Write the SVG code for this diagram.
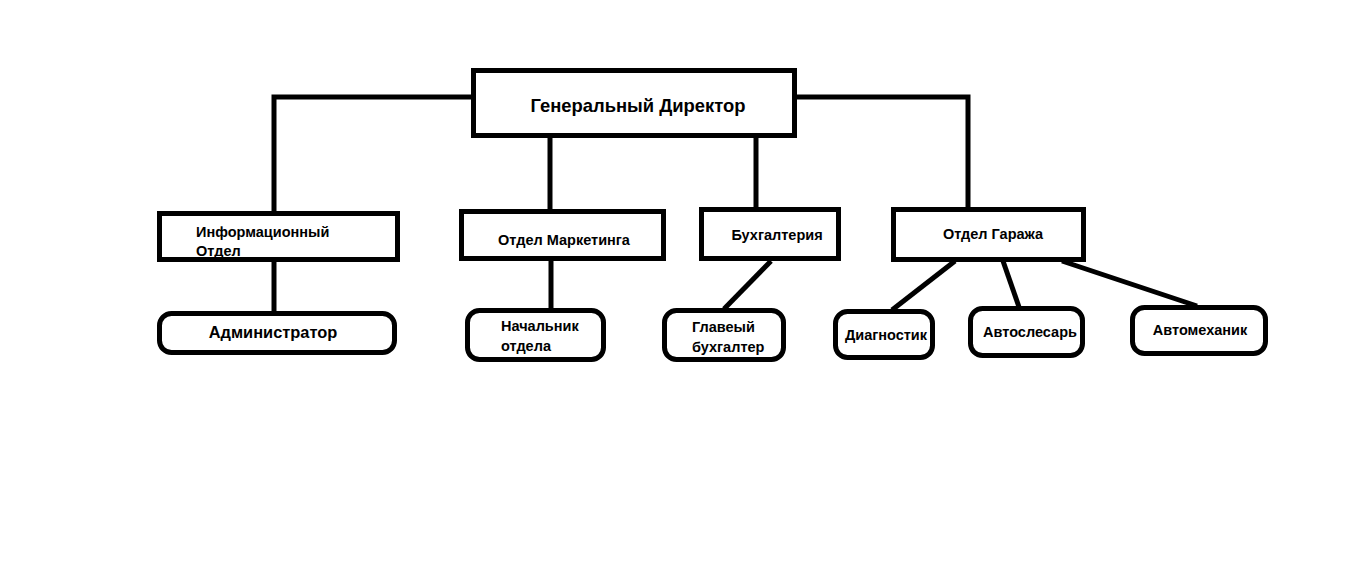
<svg xmlns="http://www.w3.org/2000/svg" width="1354" height="586" viewBox="0 0 1354 586">
<style>
.box{fill:#fff;stroke:#000;stroke-width:5}
.ln{stroke:#000;stroke-width:5;fill:none}
text{font-family:"Liberation Sans",Arial,sans-serif;font-weight:bold;fill:#000}
.s{font-size:14.5px}
</style>
<rect width="1354" height="586" fill="#fff"/>
<g id="connectors">
<polyline class="ln" points="471,97 274,97 274,211"/>
<polyline class="ln" points="797,97 968,97 968,208"/>
<line class="ln" x1="550" y1="138" x2="550" y2="210"/>
<line class="ln" x1="756" y1="138" x2="756" y2="208"/>
<line class="ln" x1="274" y1="261" x2="274" y2="312"/>
<line class="ln" x1="551" y1="260" x2="551" y2="310"/>
<line class="ln" x1="771" y1="261" x2="724" y2="309"/>
<line class="ln" x1="955" y1="261" x2="892" y2="310"/>
<line class="ln" x1="1003" y1="261" x2="1019" y2="307"/>
<line class="ln" x1="1062" y1="261" x2="1197" y2="306"/>
</g>
<g id="director">
<rect class="box" x="473.5" y="70.5" width="321" height="65"/>
<text x="638" y="112" text-anchor="middle" font-size="18.4">Генеральный Директор</text>
</g>
<g id="info">
<rect class="box" x="159.5" y="213.5" width="238" height="46"/>
<text class="s" x="196" y="237">Информационный</text>
<text class="s" x="196" y="256">Отдел</text>
</g>
<g id="marketing">
<rect class="box" x="461.5" y="211.5" width="202" height="47"/>
<text class="s" x="564" y="245" text-anchor="middle">Отдел Маркетинга</text>
</g>
<g id="buh">
<rect class="box" x="701.5" y="209.5" width="137" height="49"/>
<text class="s" x="777" y="240" text-anchor="middle">Бухгалтерия</text>
</g>
<g id="garage">
<rect class="box" x="893.5" y="209.5" width="190" height="50"/>
<text class="s" x="993" y="239" text-anchor="middle">Отдел Гаража</text>
</g>
<g id="admin">
<rect class="box" x="159.5" y="313.5" width="235" height="39" rx="12"/>
<text x="273" y="338" text-anchor="middle" font-size="16.4">Администратор</text>
</g>
<g id="nach">
<rect class="box" x="467.5" y="310.5" width="136" height="49" rx="12"/>
<text class="s" x="501" y="331">Начальник</text>
<text class="s" x="501" y="351">отдела</text>
</g>
<g id="glav">
<rect class="box" x="664.5" y="310.5" width="119" height="49" rx="12"/>
<text class="s" x="692" y="332">Главеый</text>
<text class="s" x="692" y="352">бухгалтер</text>
</g>
<g id="diag">
<rect class="box" x="835.5" y="311.5" width="97" height="46" rx="12"/>
<text class="s" x="886" y="340" text-anchor="middle">Диагностик</text>
</g>
<g id="avtosl">
<rect class="box" x="970.5" y="308.5" width="112" height="47" rx="12"/>
<text class="s" x="1030" y="337" text-anchor="middle">Автослесарь</text>
</g>
<g id="avtomekh">
<rect class="box" x="1132.5" y="307.5" width="133" height="46" rx="12"/>
<text class="s" x="1200" y="335" text-anchor="middle">Автомеханик</text>
</g>
</svg>
